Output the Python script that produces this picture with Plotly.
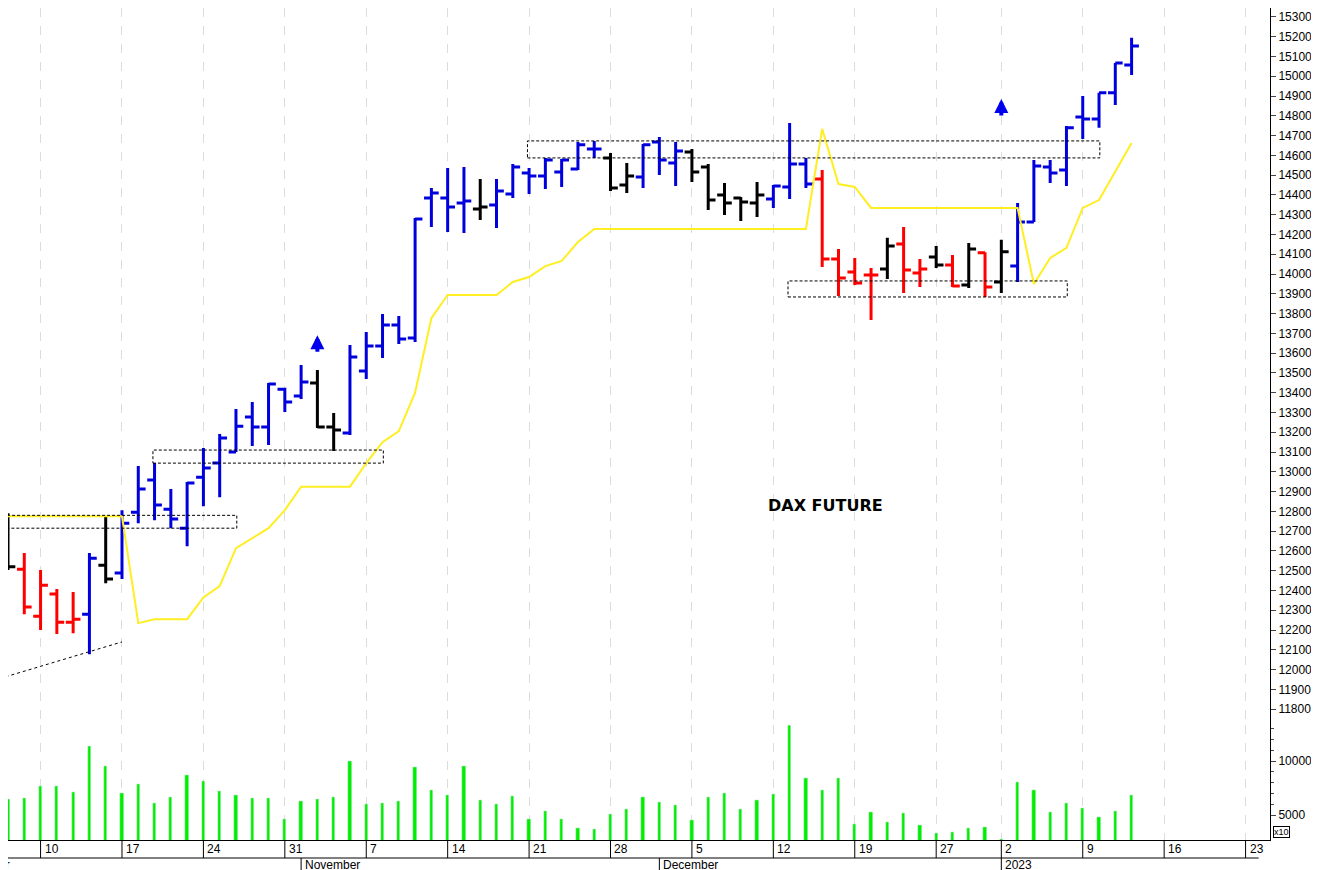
import pandas as pd
import plotly.graph_objects as go

# trading days (Dec 26 closed), extended into the empty future part of the axis
days = [d.strftime("%Y-%m-%d") for d in pd.bdate_range("2022-10-06", "2023-01-27") if d.strftime("%Y-%m-%d") != "2022-12-26"]
idx = {d: i for i, d in enumerate(days)}
bar_days = days[:70]

opens = [12740, 12508, 12270, 12382, 12240, 12280, 12528, 12488, 12796, 12958, 12811, 12715, 12973, 13044, 13100, 13277, 13226, 13418,
         13383, 13449, 13226, 13196, 13510, 13636, 13742, 13676, 14384, 14384, 14359, 14329, 14349, 14405, 14511, 14496, 14516, 14531, 14632, 14587, 14450, 14491,
         14668, 14561, 14617, 14541, 14400, 14384, 14359, 14379, 14440, 14556, 14480, 14076, 14010, 13995, 14025, 14152, 14005, 14086, 14046, 13944, 14107,
         13960, 14041, 14263, 14541, 14526, 14794, 14784, 14916, 15057]
highs = [12790, 12589, 12503, 12407, 12392, 12589, 12771, 12806, 13030, 13044, 12913, 12948, 13120, 13191, 13317, 13353, 13449, 13425,
         13540, 13515, 13297, 13641, 13707, 13798, 13788, 14283, 14435, 14536, 14541, 14480, 14480, 14556, 14536, 14587, 14581, 14668, 14673, 14612, 14561, 14658,
         14693, 14668, 14632, 14556, 14460, 14389, 14465, 14450, 14764, 14587, 14526, 14127, 14081, 14030, 14183, 14238, 14076, 14142, 14096, 14157, 14110,
         14173, 14359, 14576, 14576, 14749, 14900, 14916, 15067, 15194]
lows = [12503, 12280, 12200, 12180, 12184, 12078, 12437, 12458, 12740, 12755, 12715, 12624, 12826, 12872, 13100, 13130, 13135, 13302,
        13368, 13221, 13105, 13186, 13469, 13575, 13646, 13656, 14238, 14213, 14207, 14273, 14233, 14384, 14405, 14430, 14440, 14526, 14587, 14420, 14410, 14435,
        14501, 14445, 14465, 14324, 14298, 14268, 14288, 14334, 14379, 14435, 14035, 13889, 13944, 13768, 13975, 13904, 13934, 14030, 13934, 13929, 13884,
        13904, 13960, 14263, 14460, 14445, 14683, 14739, 14855, 15006]
closes = [12520, 12316, 12427, 12240, 12255, 12563, 12458, 12740, 12913, 12832, 12761, 12943, 13019, 13171, 13231, 13226, 13444, 13353,
          13454, 13226, 13211, 13580, 13636, 13742, 13671, 14278, 14410, 14339, 14369, 14339, 14420, 14541, 14496, 14576, 14576, 14653, 14632, 14435, 14496, 14653,
          14576, 14622, 14516, 14374, 14359, 14364, 14400, 14445, 14556, 14455, 14076, 13980, 13955, 13995, 14142, 14020, 14025, 14046, 13939, 14127, 13934,
          14112, 14263, 14546, 14511, 14739, 14784, 14916, 15067, 15153]
signal = list("krrrrbkb" + "bbbbbbbbbb" + "bkkbbbbbbbbkbbbbbbbkkb" + "bbkkkkkbbbrrrrkrrkrkr" + "kbbbbbbbb")
stop_line = [12775] * 8 + [12235, 12255, 12255, 12255, 12365, 12422, 12614, 12665, 12715, 12806,
             12925, 12925, 12925, 12925, 13044, 13150, 13206, 13400, 13777, 13894, 13894, 13894, 13894, 13960, 13985, 14040, 14066, 14162, 14228,
             ] + [14228] * 13 + [14734, 14455, 14440, 14334] + [14334] * 9 + [13950, 14081, 14132, 14334, 14374, 14516, 14663]
volume = [6480, 6570, 7690, 7690, 7130, 11390, 9540, 7040, 7870, 6110, 6670, 8700, 8150, 7220, 6850, 6570, 6570, 4630,
          6300, 6480, 6670, 10000, 6020, 6110, 6300, 9440, 7320, 6850, 9540, 6390, 6020, 6760, 4630, 5370, 4630, 3800, 3700, 5090, 5560, 6670,
          6200, 5930, 4540, 6670, 7040, 5560, 6390, 6940, 13330, 8430, 7320, 8430, 4170, 5280, 4350, 5190, 4070, 3330, 3430, 3800, 3890,
          2800, 8060, 7320, 5280, 6110, 5650, 4810, 5370, 6850]

week_days = ["2022-10-10", "2022-10-17", "2022-10-24", "2022-10-31", "2022-11-07", "2022-11-14", "2022-11-21", "2022-11-28",
             "2022-12-05", "2022-12-12", "2022-12-19", "2022-12-27", "2023-01-02", "2023-01-09", "2023-01-16", "2023-01-23"]
week_labels = ["10", "17", "24", "31", "7", "14", "21", "28", "5", "12", "19", "27", "2", "9", "16", "23"]
month_days = ["2022-11-01", "2022-12-01", "2023-01-02"]
month_labels = ["November", "December", "2023"]

# boxes: (start day, end day, low, high)
boxes = [("2022-10-06", "2022-10-26", 12715, 12780), ("2022-10-19", "2022-11-08", 13044, 13110),
         ("2022-11-21", "2023-01-10", 14587, 14673), ("2022-12-13", "2023-01-06", 13884, 13965)]
arrows = [("2022-11-02", 13690), ("2023-01-02", 14885)]

colors = {"b": "#0000dd", "k": "#000000", "r": "#ff0000"}
xs = [idx[d] for d in bar_days]

fig = go.Figure()
for key, col in colors.items():
    sel = [i for i, s in enumerate(signal) if s == key]
    fig.add_trace(go.Ohlc(x=[xs[i] for i in sel], open=[opens[i] for i in sel], high=[highs[i] for i in sel],
                          low=[lows[i] for i in sel], close=[closes[i] for i in sel], tickwidth=0.45,
                          increasing=dict(line=dict(color=col, width=3)), decreasing=dict(line=dict(color=col, width=3)),
                          showlegend=False, hoverinfo="skip"))

fig.add_trace(go.Scatter(x=[-0.5] + xs, y=[stop_line[0]] + stop_line, mode="lines",
                         line=dict(color="#ffee22", width=2), showlegend=False))
fig.add_trace(go.Scatter(x=[-0.5, 7], y=[11955, 12140], mode="lines",
                         line=dict(color="black", width=1, dash="dot"), showlegend=False))
fig.add_trace(go.Bar(x=xs, y=volume, marker_color="#00ee00", width=0.2, yaxis="y2", showlegend=False))

for d0, d1, lo, hi in boxes:
    fig.add_shape(type="rect", x0=idx[d0] - 0.1, x1=idx[d1] + 0.05, y0=lo, y1=hi,
                  line=dict(color="black", width=1, dash="3px,2px"))

for d, p in arrows:
    fig.add_annotation(x=idx[d], y=p, ax=0, ay=18, showarrow=True, arrowhead=2, arrowsize=0.7,
                       arrowwidth=4, arrowcolor="#0000ee", text="")

fig.add_annotation(x=50.2, y=12830, text="<b>DAX FUTURE</b>", showarrow=False,
                   font=dict(size=16, color="black", family="DejaVu Sans"))

# date label band (plot area height 832 px)
H = 832.0
for d, lab in zip(week_days, week_labels):
    fig.add_shape(type="line", xref="x", yref="paper", x0=idx[d], x1=idx[d], y0=0, y1=-18 / H, line=dict(color="black", width=1))
    fig.add_annotation(xref="x", yref="paper", x=idx[d] + 0.12, y=-9 / H, text=lab, showarrow=False,
                       xanchor="left", yanchor="middle", font=dict(size=12, color="black"))
for d, lab in zip(month_days, month_labels):
    fig.add_shape(type="line", xref="x", yref="paper", x0=idx[d], x1=idx[d], y0=-18 / H, y1=-32 / H, line=dict(color="black", width=1))
    fig.add_annotation(xref="x", yref="paper", x=idx[d] + 0.12, y=-25 / H, text=lab, showarrow=False,
                       xanchor="left", yanchor="middle", font=dict(size=12, color="black"))
fig.add_annotation(xref="paper", yref="paper", x=4 / 1262, y=-25 / H, text="October", showarrow=False,
                   xanchor="right", yanchor="middle", font=dict(size=12, color="black"))
fig.add_shape(type="line", xref="paper", yref="paper", x0=0, x1=0.991, y0=-18 / H, y1=-18 / H, line=dict(color="black", width=1))
fig.add_annotation(xref="paper", yref="paper", x=1.002, y=0.002, text="x10", showarrow=False, xanchor="left", yanchor="bottom",
                   font=dict(size=9, color="black"), bordercolor="black", borderwidth=1, borderpad=0)

fig.update_layout(
    width=1319, height=870, margin=dict(l=0, r=57, t=0, b=38),
    plot_bgcolor="white", paper_bgcolor="white", font=dict(family="Arial, Liberation Sans", size=12, color="black"),
    xaxis=dict(range=[0.0, 77.5], tickvals=[idx[d] for d in week_days], showticklabels=False, ticks="",
               showgrid=True, gridcolor="#dcdcdc", griddash="dash", gridwidth=1, zeroline=False,
               showline=True, linecolor="black", anchor="y2", rangeslider=dict(visible=False)),
    yaxis=dict(domain=[0.138, 1], range=[11719, 15345], side="right", tickvals=list(range(11800, 15400, 100)),
               tickformat="d", ticks="outside", ticklen=5, showgrid=False, zeroline=False, showline=True,
               linecolor="black", tickfont=dict(size=12)),
    yaxis2=dict(domain=[0, 0.138], range=[2685, 13334], side="right", tickvals=[5000, 10000], tickformat="d",
                ticks="outside", ticklen=5,
                minor=dict(tickvals=[6000, 7000, 8000, 9000, 11000, 12000, 13000], ticks="outside", ticklen=3),
                showgrid=False, zeroline=False, showline=True, linecolor="black", tickfont=dict(size=12)),
    bargap=0,
)

fig.write_html("out.html")
